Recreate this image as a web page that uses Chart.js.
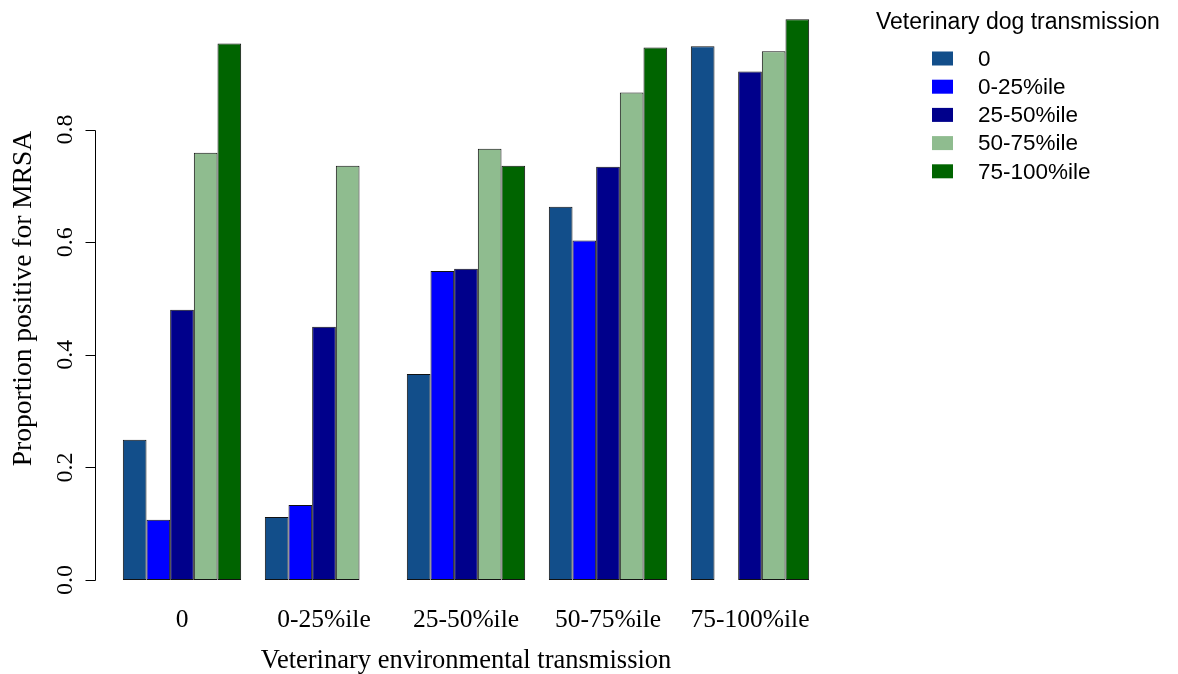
<!DOCTYPE html>
<html>
<head>
<meta charset="utf-8">
<script src="https://cdn.jsdelivr.net/npm/chart.js@4/dist/chart.umd.min.js"></script>
<style>
  html, body { margin: 0; padding: 0; background: #fff; }
  #wrap { width: 1178px; height: 674px; position: relative; }
</style>
</head>
<body>
<div id="wrap"><canvas id="mrsaChart"></canvas></div>
<script>
// groups along the x axis (environmental transmission)
const envLabels = ['0', '0-25%ile', '25-50%ile', '50-75%ile', '75-100%ile'];
// series (dog transmission) - one value per environmental group, null = no bar
const dogLabels = ['0', '0-25%ile', '25-50%ile', '50-75%ile', '75-100%ile'];
const dog0     = [0.249, 0.112, 0.366, 0.663, 0.948];
const dog0to25 = [0.107, 0.133, 0.549, 0.603, null];
const dog25to50 = [0.480, 0.450, 0.553, 0.734, 0.903];
const dog50to75 = [0.759, 0.736, 0.766, 0.866, 0.939];
const dog75to100 = [0.953, null, 0.736, 0.946, 0.996];
const yTicks = [0, 0.2, 0.4, 0.6, 0.8];

const seriesColors = ['#124e8a', '#0000ff', '#00008b', '#8fbc8f', '#006400'];
const seriesData = [dog0, dog0to25, dog25to50, dog50to75, dog75to100];

const SERIF = '"Liberation Serif", "Times New Roman", serif';
const SANS = '"Liberation Sans", Arial, sans-serif';

// R-style axes, titles and legend drawn from the chart's own scales
const rStyle = {
    id: 'rStyle',
    afterDraw(chart) {
        const c = chart.ctx;
        const xs = chart.scales.x;
        const ys = chart.scales.y;
        const area = chart.chartArea;
        c.save();
        c.fillStyle = '#000';
        c.strokeStyle = '#000';
        c.lineWidth = 1;

        // y axis line + ticks
        const axX = 95.5;
        c.beginPath();
        c.moveTo(axX, Math.round(ys.getPixelForValue(yTicks[0])) + 0.5);
        c.lineTo(axX, Math.round(ys.getPixelForValue(yTicks[yTicks.length - 1])) + 0.5);
        yTicks.forEach(v => {
            const py = Math.round(ys.getPixelForValue(v)) + 0.5;
            c.moveTo(axX, py);
            c.lineTo(axX - 10, py);
        });
        c.stroke();

        c.font = '24px ' + SERIF;
        c.textAlign = 'center';
        c.textBaseline = 'middle';
        yTicks.forEach(v => {
            const py = ys.getPixelForValue(v);
            c.save();
            c.translate(66, py);
            c.rotate(-Math.PI / 2);
            c.fillText(v.toFixed(1), 0, 0);
            c.restore();
        });

        // y title
        c.font = '27.5px ' + SERIF;
        c.save();
        c.translate(24, (area.top + area.bottom) / 2);
        c.rotate(-Math.PI / 2);
        c.fillText('Proportion positive for MRSA', 0, 0);
        c.restore();

        // x group labels
        c.font = '25.5px ' + SERIF;
        envLabels.forEach((lab, i) => {
            c.fillText(lab, xs.getPixelForTick(i), 620);
        });
        c.font = '26.5px ' + SERIF;
        c.fillText('Veterinary environmental transmission', (area.left + area.right) / 2, 661);

        // legend
        c.textAlign = 'left';
        c.font = '23px ' + SANS;
        c.fillText('Veterinary dog transmission', 876, 23);
        c.font = '22.5px ' + SANS;
        chart.data.datasets.forEach((ds, i) => {
            const ry = 58.5 + i * 28.2;
            c.fillStyle = ds.backgroundColor;
            c.fillRect(932, ry - 7, 21, 14);
            c.fillStyle = '#000';
            c.fillText(ds.label, 978, ry + 1);
        });
        c.restore();
    }
};

new Chart(document.getElementById('mrsaChart'), {
    type: 'bar',
    data: {
        labels: envLabels,
        datasets: dogLabels.map((lab, i) => ({
            label: lab,
            data: seriesData[i],
            backgroundColor: seriesColors[i],
            borderColor: '#111',
            borderWidth: 1,
            borderSkipped: false,
            categoryPercentage: 5 / 6,
            barPercentage: 1
        }))
    },
    options: {
        responsive: true,
        maintainAspectRatio: false,
        animation: false,
        layout: { padding: { left: 111, right: 357, top: 17, bottom: 94 } },
        plugins: {
            legend: { display: false },
            tooltip: { enabled: false }
        },
        scales: {
            x: { display: false },
            y: { display: false, min: 0, max: 1 }
        }
    },
    plugins: [rStyle]
});
</script>
</body>
</html>
